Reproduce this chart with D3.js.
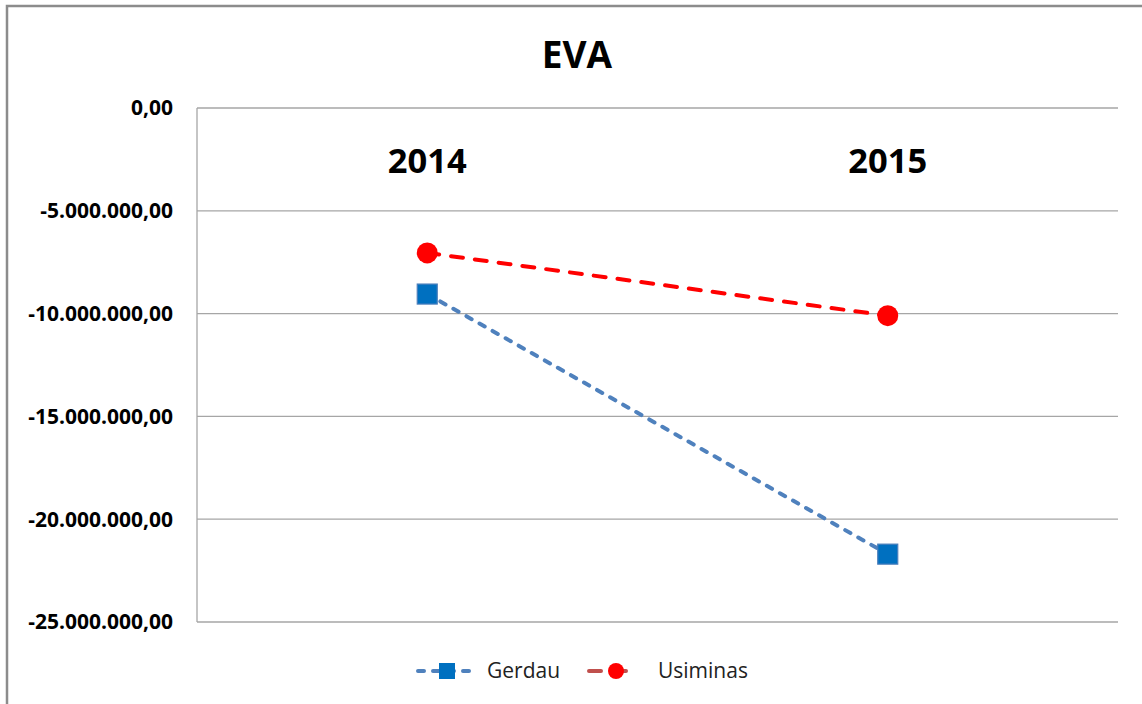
<!DOCTYPE html>
<html>
<head>
<meta charset="utf-8">
<script src="https://cdn.jsdelivr.net/npm/d3@7"></script>
<style>
  body { margin: 0; background: #fff; }
  text { font-family: "Open Sans", "DejaVu Sans", sans-serif; }
</style>
</head>
<body>
<div class="canva"></div>
<script>
// data
const years = ["2014", "2015"];
const gerdau = [-9050000, -21700000];
const usiminas = [-7050000, -10100000];
const yTicks = [0, -5000000, -10000000, -15000000, -20000000, -25000000];

const svg = d3.select(".canva").append("svg")
  .attr("width", 1142)
  .attr("height", 704);

// outer chart frame
svg.append("rect")
  .attr("x", 7).attr("y", 6)
  .attr("width", 1200).attr("height", 800)
  .attr("fill", "none")
  .attr("stroke", "#8c8c8c")
  .attr("stroke-width", 2.5);

const margin = {top: 108, right: 24, bottom: 82, left: 197};
const width = 1142 - margin.left - margin.right;
const height = 704 - margin.top - margin.bottom;

const g = svg.append("g")
  .attr("transform", `translate(${margin.left},${margin.top})`);

const x = d3.scaleBand().domain(years).range([0, width]);
const y = d3.scaleLinear().domain([-25000000, 0]).range([height, 0]);

// pt-BR number format, plain hyphen for minus
const ptBR = d3.formatLocale({decimal: ",", thousands: ".", grouping: [3], currency: ["R$", ""], minus: "-"});
const fmt = ptBR.format(",.2f");

// gridlines
g.selectAll(".grid")
  .data(yTicks)
  .enter().append("line")
  .attr("x1", 0).attr("x2", width)
  .attr("y1", d => y(d)).attr("y2", d => y(d))
  .attr("stroke", "#a6a6a6")
  .attr("stroke-width", 1.3);

// vertical axis line
g.append("line")
  .attr("x1", 0).attr("x2", 0)
  .attr("y1", 0).attr("y2", height)
  .attr("stroke", "#a6a6a6")
  .attr("stroke-width", 1.3);

// y tick labels
g.selectAll(".ylab")
  .data(yTicks)
  .enter().append("text")
  .attr("x", -24)
  .attr("y", d => y(d))
  .attr("dy", "0.35em")
  .attr("text-anchor", "end")
  .attr("font-size", 21)
  .attr("font-weight", "bold")
  .attr("fill", "#000")
  .text(d => fmt(d));

// category labels at top
g.selectAll(".xlab")
  .data(years)
  .enter().append("text")
  .attr("x", d => x(d) + x.bandwidth() / 2)
  .attr("y", 65)
  .attr("text-anchor", "middle")
  .attr("font-size", 34.5)
  .attr("font-weight", "bold")
  .attr("fill", "#000")
  .text(d => d);

// title
svg.append("text")
  .attr("x", 577)
  .attr("y", 68)
  .attr("text-anchor", "middle")
  .attr("font-size", 37)
  .attr("font-weight", "bold")
  .attr("fill", "#000")
  .text("EVA");

const line = d3.line()
  .x((d, i) => x(years[i]) + x.bandwidth() / 2)
  .y(d => y(d));

// Usiminas line
g.append("path")
  .datum(usiminas)
  .attr("d", line)
  .attr("fill", "none")
  .attr("stroke", "#ff0000")
  .attr("stroke-width", 4)
  .attr("stroke-linecap", "round")
  .attr("stroke-dasharray", "12,12");

// Gerdau line
g.append("path")
  .datum(gerdau)
  .attr("d", line)
  .attr("fill", "none")
  .attr("stroke", "#4f81bd")
  .attr("stroke-width", 4)
  .attr("stroke-linecap", "round")
  .attr("stroke-dasharray", "6,9");

// Gerdau squares
g.selectAll(".sq")
  .data(gerdau)
  .enter().append("rect")
  .attr("x", (d, i) => x(years[i]) + x.bandwidth() / 2 - 10)
  .attr("y", d => y(d) - 10)
  .attr("width", 20).attr("height", 20)
  .attr("fill", "#0070c0")
  .attr("stroke", "#4a7ebb")
  .attr("stroke-width", 1.2);

// Usiminas circles
g.selectAll(".dot")
  .data(usiminas)
  .enter().append("circle")
  .attr("cx", (d, i) => x(years[i]) + x.bandwidth() / 2)
  .attr("cy", d => y(d))
  .attr("r", 10.5)
  .attr("fill", "#ff0000");

// legend
const leg = svg.append("g").attr("transform", "translate(0,671)");

leg.append("line")
  .attr("x1", 418).attr("x2", 478)
  .attr("stroke", "#4f81bd").attr("stroke-width", 4)
  .attr("stroke-linecap", "round")
  .attr("stroke-dasharray", "6,9");
leg.append("rect")
  .attr("x", 439).attr("y", -8)
  .attr("width", 16).attr("height", 16)
  .attr("fill", "#0070c0");
leg.append("text")
  .attr("x", 487).attr("y", 0).attr("dy", "0.35em")
  .attr("font-size", 21).attr("fill", "#222")
  .text("Gerdau");

leg.append("line")
  .attr("x1", 589).attr("x2", 637)
  .attr("stroke", "#c0504d").attr("stroke-width", 4)
  .attr("stroke-linecap", "round")
  .attr("stroke-dasharray", "12,13");
leg.append("circle")
  .attr("cx", 616).attr("cy", 0).attr("r", 8)
  .attr("fill", "#ff0000");
leg.append("text")
  .attr("x", 658).attr("y", 0).attr("dy", "0.35em")
  .attr("font-size", 21).attr("fill", "#222")
  .text("Usiminas");
</script>
</body>
</html>
